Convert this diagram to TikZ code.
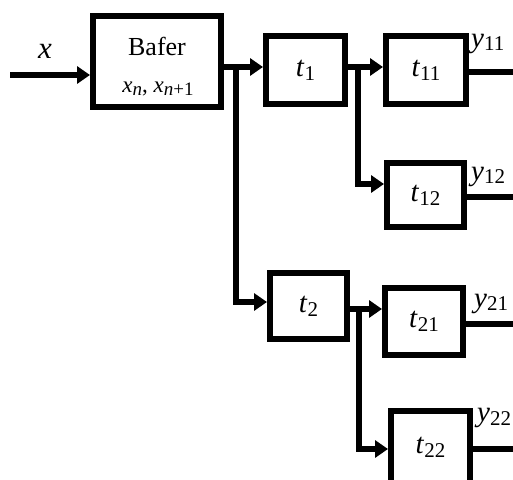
\documentclass[tikz,border=0pt]{standalone}
\usepackage{fontspec}
\setmainfont{Liberation Serif}
\usetikzlibrary{arrows.meta}
\newcommand\tlab[2]{\textit{#1}\raisebox{-0.3ex}{\fontsize{21}{21}\selectfont #2}}
\newcommand\xsub[1]{\textit{x}\raisebox{-0.3ex}{\fontsize{19}{19}\selectfont #1}}
\begin{document}
\begin{tikzpicture}[x=1pt,y=-1pt,
  blk/.style={draw, line width=6pt, inner sep=0pt, font=\fontsize{29}{29}\selectfont},
  conn/.style={line width=6pt},
  arr/.style={conn, -{Triangle[length=13pt,width=17pt]}},
  lab/.style={inner sep=0pt, anchor=base west, font=\fontsize{29}{29}\selectfont},
  txt/.style={inner sep=0pt, anchor=base}]
\useasboundingbox (0,0) rectangle (513,479);
% boxes
\node[blk, minimum width=128pt, minimum height=91pt] (bafer) at (157,61.5) {};
\node[txt, font=\fontsize{26}{26}\selectfont] (bt) at (157,55) {Bafer};
\node[txt, font=\fontsize{23}{23}\selectfont] (bx) at (158,92) {\xsub{\textit{n}}, \xsub{\textit{n}+1}};
\node[blk, minimum width=79pt, minimum height=68pt] (t1) at (305.5,70) {\tlab{t}{1}};
\node[blk, minimum width=80pt, minimum height=68pt] (t11) at (426,70) {\tlab{t}{11}};
\node[blk, minimum width=77pt, minimum height=64pt] (t12) at (425.5,195) {\tlab{t}{12}};
\node[blk, minimum width=77pt, minimum height=66pt] (t2) at (308.5,306) {\tlab{t}{2}};
\node[blk, minimum width=78pt, minimum height=67pt] (t21) at (424,321.5) {\tlab{t}{21}};
\node[blk, minimum width=79pt, minimum height=72pt] (t22) at (430.5,447) {\tlab{t}{22}};
% coordinates
\coordinate (xin) at (10,75);
\coordinate (j0) at (236,67);
\coordinate (c2) at (0,302);
\coordinate (j1) at (358,67);
\coordinate (c12) at (0,184);
\coordinate (j2) at (359,309);
\coordinate (c22) at (0,449);
\coordinate (o11) at (513,72);
\coordinate (o12) at (513,197);
\coordinate (o21) at (513,324);
\coordinate (o22) at (513,449);
% connectors
\draw[arr] (xin) -- (xin -| bafer.west);
\draw[arr] (bafer.east |- j0) -- (t1.west |- j0);
\draw[arr] (j0) |- (t2.west |- c2);
\draw[arr] (t1.east |- j1) -- (t11.west |- j1);
\draw[arr] (j1) |- (t12.west |- c12);
\draw[arr] (t2.east |- j2) -- (t21.west |- j2);
\draw[arr] (j2) |- (t22.west |- c22);
\draw[conn] (t11.east |- o11) -- (o11);
\draw[conn] (t12.east |- o12) -- (o12);
\draw[conn] (t21.east |- o21) -- (o21);
\draw[conn] (t22.east |- o22) -- (o22);
% labels
\node[txt, font=\fontsize{31}{31}\selectfont] (lx) at (45,58) {\textit{x}};
\node[lab] (ly11) at (471,47) {\tlab{y}{11}};
\node[lab] (ly12) at (471,180) {\tlab{y}{12}};
\node[lab] (ly21) at (474,307) {\tlab{y}{21}};
\node[lab] (ly22) at (477,421) {\tlab{y}{22}};
\end{tikzpicture}
\end{document}
